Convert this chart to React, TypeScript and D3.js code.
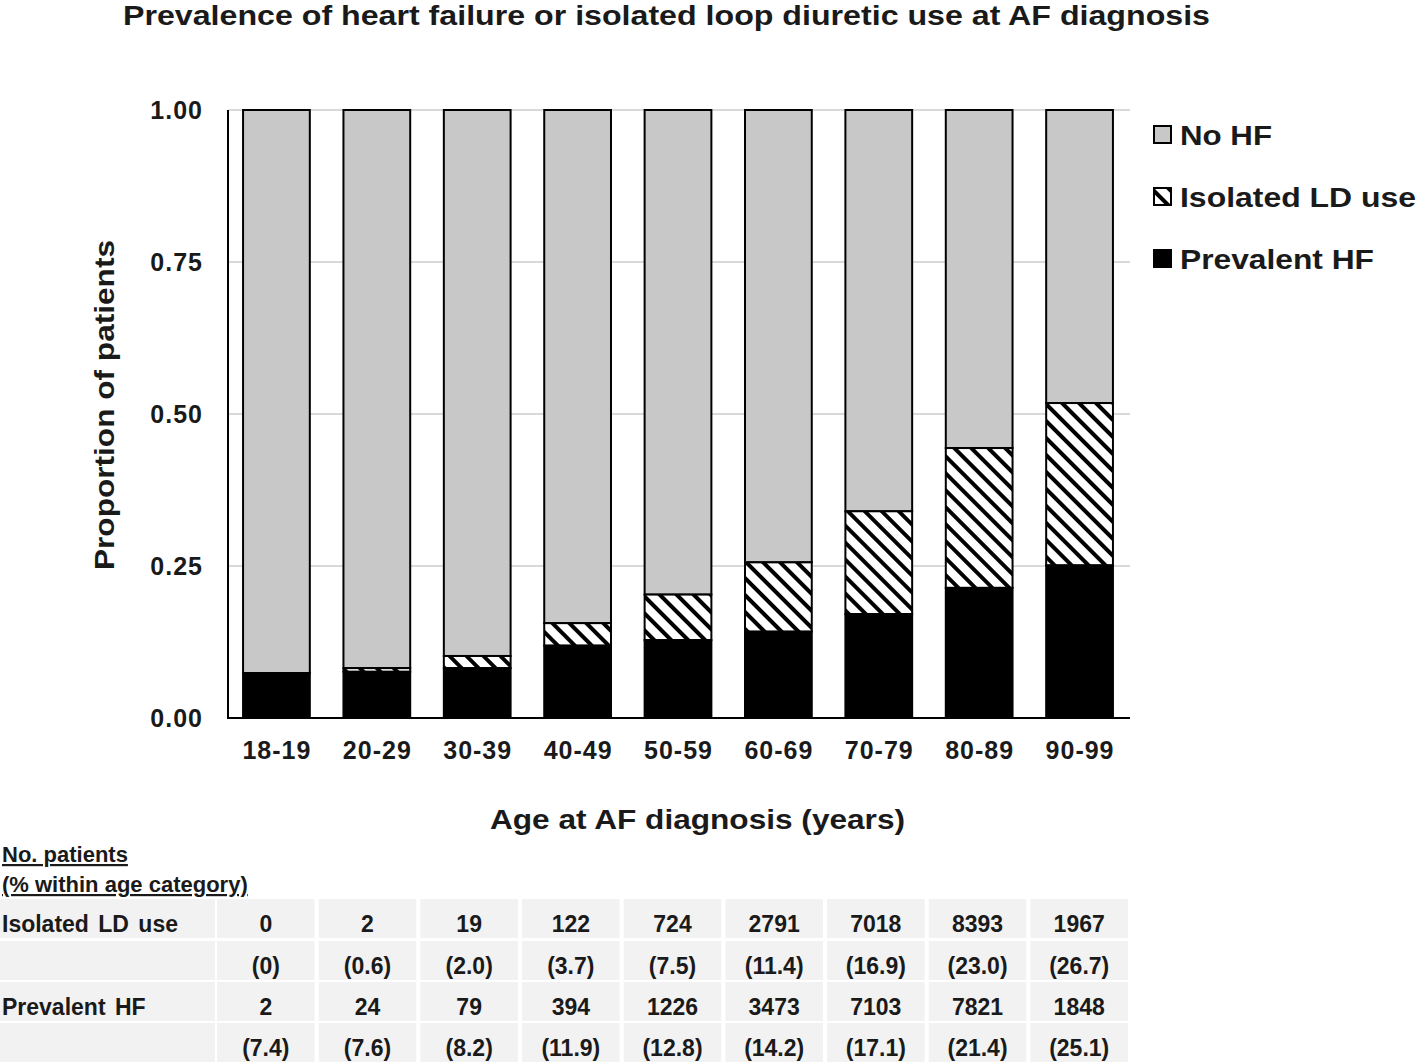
import React from 'react';
import * as d3 from 'd3';

// age categories
const ages = ['18-19', '20-29', '30-39', '40-49', '50-59', '60-69', '70-79', '80-89', '90-99'];
// counts
const ldCounts = [0, 2, 19, 122, 724, 2791, 7018, 8393, 1967];
const hfCounts = [2, 24, 79, 394, 1226, 3473, 7103, 7821, 1848];
// % within age category
const ldPct = [0, 0.6, 2.0, 3.7, 7.5, 11.4, 16.9, 23.0, 26.7];
const hfPct = [7.4, 7.6, 8.2, 11.9, 12.8, 14.2, 17.1, 21.4, 25.1];
const yTicks = [0, 0.25, 0.5, 0.75, 1.0];
const legendItems = ['No HF', 'Isolated LD use', 'Prevalent HF'];
const legendWidths = [92, 236, 194];

const W = 1418;
const H = 1063;
const FONT = '"Liberation Sans", Arial, sans-serif';
const INK = '#1a1a1a';

const App = () => {
  const x = d3.scaleBand<string>().domain(ages).range([227, 1129]).paddingInner(0.335).paddingOuter(0.16);
  const y = d3.scaleLinear().domain([0, 1]).range([718, 110]);

  const rows = ages.map((a, i) => {
    const hf = hfPct[i] / 100;
    const ld = ldPct[i] / 100;
    return { age: a, hf, ld, top: hf + ld };
  });

  // table columns
  const col = d3.scaleBand<string>().domain(ages).range([217, 1128]).paddingInner(0.04);
  const tableRows = [
    { label: 'Isolated LD use', vals: ldCounts.map(String) },
    { label: '', vals: ldPct.map((v) => (v === 0 ? '(0)' : `(${v.toFixed(1)})`)) },
    { label: 'Prevalent HF', vals: hfCounts.map(String) },
    { label: '', vals: hfPct.map((v) => `(${v.toFixed(1)})`) },
  ];
  const rowTop = [899, 941, 982, 1023];
  const rowH = 39;

  return (
    <svg width={W} height={H} style={{ position: 'absolute', left: 0, top: 0, background: '#fff' }} fontFamily={FONT}>
      <defs>
        <pattern id="hatch" patternUnits="userSpaceOnUse" width={12} height={12} patternTransform="rotate(45)">
          <rect width={12} height={12} fill="#fff" />
          <rect width={12} height={4} fill="#000" />
        </pattern>
      </defs>

      <text x={123} y={25} fontSize={28} fontWeight="bold" fill={INK} textLength={1087} lengthAdjust="spacingAndGlyphs">
        Prevalence of heart failure or isolated loop diuretic use at AF diagnosis
      </text>

      {/* grid */}
      {yTicks.filter((t) => t > 0).map((t) => (
        <line key={t} x1={228} x2={1130} y1={y(t)} y2={y(t)} stroke="#d9d9d9" strokeWidth={2} />
      ))}

      {/* bars */}
      {rows.map((r) => (
        <g key={r.age}>
          <rect x={x(r.age)} y={y(1)} width={x.bandwidth()} height={y(r.top) - y(1)} fill="#c8c8c8" stroke="#000" strokeWidth={2} />
          {r.ld > 0 && (
            <rect x={x(r.age)} y={y(r.top)} width={x.bandwidth()} height={y(r.hf) - y(r.top)} fill="url(#hatch)" stroke="#000" strokeWidth={2} />
          )}
          <rect x={x(r.age)} y={y(r.hf)} width={x.bandwidth()} height={y(0) - y(r.hf)} fill="#000" stroke="#000" strokeWidth={2} />
        </g>
      ))}

      {/* axes */}
      <line x1={228} x2={228} y1={110} y2={718} stroke="#000" strokeWidth={2} />
      <line x1={227} x2={1130} y1={718} y2={718} stroke="#000" strokeWidth={2} />

      {yTicks.map((t) => (
        <text key={t} x={203} y={y(t) + 9} textAnchor="end" fontSize={25} fontWeight="bold" fill={INK} letterSpacing={1}>
          {d3.format('.2f')(t)}
        </text>
      ))}
      {ages.map((a) => (
        <text key={a} x={(x(a) as number) + x.bandwidth() / 2 + 0.5} y={759} textAnchor="middle" fontSize={25} fontWeight="bold" fill={INK} letterSpacing={1}>
          {a}
        </text>
      ))}

      <text transform="translate(114,405) rotate(-90)" textAnchor="middle" fontSize={28} fontWeight="bold" fill={INK} textLength={330} lengthAdjust="spacingAndGlyphs">
        Proportion of patients
      </text>
      <text x={490} y={829} fontSize={28} fontWeight="bold" fill={INK} textLength={415} lengthAdjust="spacingAndGlyphs">
        Age at AF diagnosis (years)
      </text>

      {/* legend */}
      {legendItems.map((l, i) => (
        <g key={l} transform={`translate(1154,${126 + i * 62})`}>
          <rect width={17} height={17} fill={i === 0 ? '#c8c8c8' : i === 1 ? 'url(#hatch)' : '#000'} stroke="#000" strokeWidth={2} />
          <text x={26} y={19} fontSize={28} fontWeight="bold" fill={INK} textLength={legendWidths[i]} lengthAdjust="spacingAndGlyphs">
            {l}
          </text>
        </g>
      ))}

      {/* table */}
      <text x={2} y={862} fontSize={22} fontWeight="bold" fill={INK} textDecoration="underline">
        No. patients
      </text>
      <text x={2} y={892} fontSize={22} fontWeight="bold" fill={INK} textDecoration="underline">
        (% within age category)
      </text>
      {tableRows.map((tr, ri) => (
        <g key={ri}>
          <rect x={0} y={rowTop[ri]} width={215} height={rowH} fill="#f2f2f2" />
          <text x={2} y={rowTop[ri] + 33} fontSize={23} fontWeight="bold" fill={INK} wordSpacing={3}>
            {tr.label}
          </text>
          {ages.map((a, ci) => (
            <g key={a}>
              <rect x={col(a)} y={rowTop[ri]} width={col.bandwidth()} height={rowH} fill="#f2f2f2" />
              <text x={(col(a) as number) + col.bandwidth() / 2} y={rowTop[ri] + 33} textAnchor="middle" fontSize={23} fontWeight="bold" fill={INK}>
                {tr.vals[ci]}
              </text>
            </g>
          ))}
        </g>
      ))}
    </svg>
  );
};

export default App;
